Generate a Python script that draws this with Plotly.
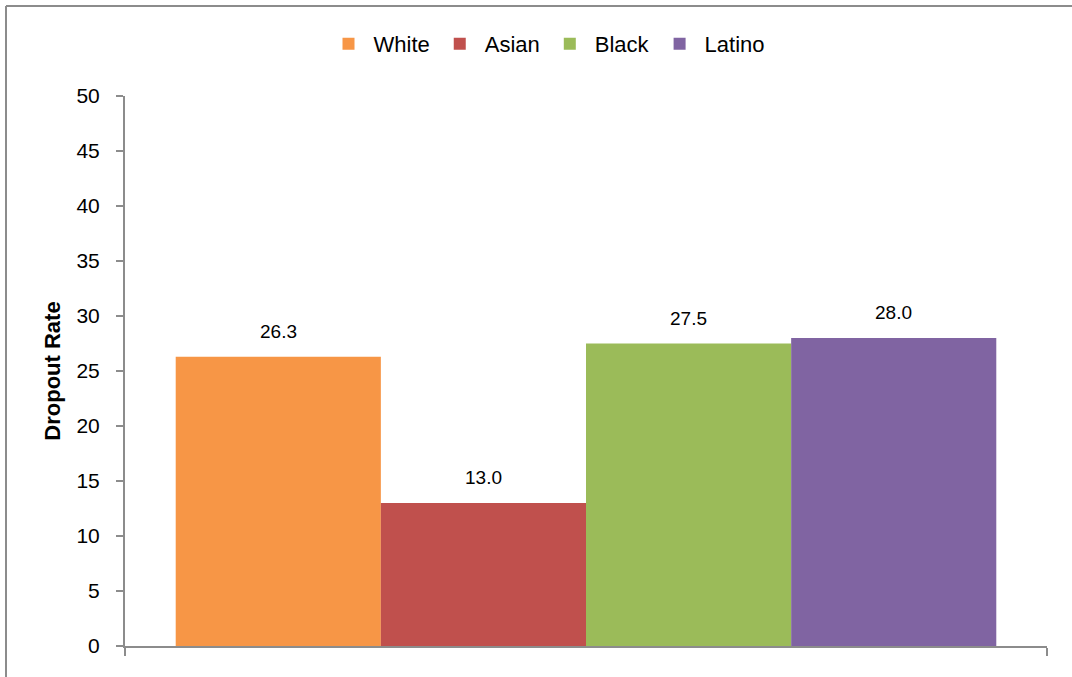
import plotly.graph_objects as go

groups = ["White", "Asian", "Black", "Latino"]
values = [26.3, 13.0, 27.5, 28.0]
colors = ["#F79646", "#C0504D", "#9BBB59", "#8064A2"]
category = [""]
y_ticks = list(range(0, 55, 5))

FONT = "Liberation Sans, Arial, sans-serif"
BARGAP = 0.11

fig = go.Figure()
for g, v, c in zip(groups, values, colors):
    fig.add_trace(go.Bar(
        name=g, x=category, y=[v], marker=dict(color=c, line=dict(width=0)),
        hovertemplate=f"{g}: %{{y:.1f}}<extra></extra>",
    ))

# value labels placed at each grouped bar's centre (category-serial coords)
n = len(groups)
w = (1 - BARGAP) / n
annotations = []
for i, v in enumerate(values):
    annotations.append(dict(
        x=-(1 - BARGAP) / 2 + w * (i + 0.5), y=v, xref="x", yref="y",
        text=f"{v:.1f}", showarrow=False, yanchor="bottom", yshift=13,
        font=dict(size=19, color="#000000", family=FONT),
    ))

W, H = 1072, 677
l, r, t, b = 125, 25, 96, 31
pw, ph = W - l - r, H - t - b

fig.update_layout(
    width=W, height=H,
    margin=dict(l=l, r=r, t=t, b=b),
    barmode="group", bargap=BARGAP, bargroupgap=0,
    plot_bgcolor="white", paper_bgcolor="white",
    font=dict(family=FONT, color="#000000"),
    showlegend=True,
    legend=dict(orientation="h", x=(547 - l) / pw, xanchor="center",
                y=(646 - 44) / ph, yanchor="middle",
                font=dict(size=22, family=FONT), itemwidth=40,
                traceorder="normal"),
    xaxis=dict(showline=True, linecolor="#8C8C8C", linewidth=2,
               ticks="outside", tickson="boundaries", ticklen=8,
               tickcolor="#8C8C8C", tickwidth=2,
               showticklabels=False, showgrid=False, zeroline=False,
               fixedrange=True),
    yaxis=dict(range=[0, 50], tickvals=y_ticks, showline=True,
               linecolor="#8C8C8C", linewidth=2, ticks="outside",
               ticklen=7, tickcolor="#8C8C8C", tickwidth=2,
               showgrid=False, zeroline=False,
               tickfont=dict(size=21, family=FONT), ticklabelstandoff=12,
               title=dict(text="<b>Dropout Rate</b>",
                          font=dict(size=22, family=FONT), standoff=10)),
    annotations=annotations,
    shapes=[
        dict(type="line", xref="paper", yref="paper",
             x0=(6 - l) / pw, x1=(6 - l) / pw,
             y0=(646 - 6) / ph, y1=(646 - 700) / ph,
             line=dict(color="#8C8C8C", width=2)),
        dict(type="line", xref="paper", yref="paper",
             x0=(6 - l) / pw, x1=(1100 - l) / pw,
             y0=(646 - 6) / ph, y1=(646 - 6) / ph,
             line=dict(color="#8C8C8C", width=2)),
    ],
)

fig.write_html(
    "out.html",
    config={"displayModeBar": False},
    post_script="document.body.style.margin='0';document.body.style.overflow='hidden';",
)
